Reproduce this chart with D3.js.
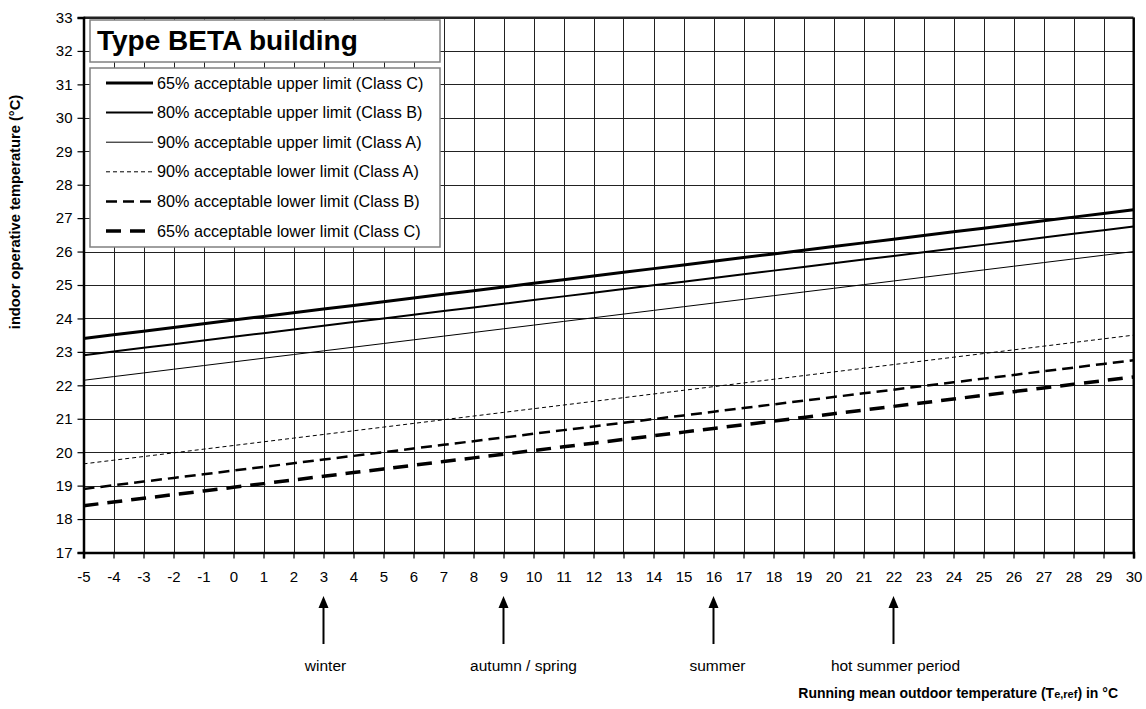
<!DOCTYPE html>
<html><head><meta charset="utf-8">
<script src="https://cdn.jsdelivr.net/npm/d3@7"></script>
<style>body{margin:0;background:#fff}svg{display:block;font-family:"Liberation Sans",Arial,sans-serif}</style>
</head><body><svg id="c" width="1146" height="709"></svg>
<script>
const xValues = [-5,-4,-3,-2,-1,0,1,2,3,4,5,6,7,8,9,10,11,12,13,14,15,16,17,18,19,20,21,22,23,24,25,26,27,28,29,30];
const upperC = [23.40,23.51,23.62,23.73,23.84,23.95,24.06,24.17,24.28,24.39,24.50,24.61,24.72,24.83,24.94,25.05,25.16,25.27,25.38,25.49,25.60,25.71,25.82,25.93,26.04,26.15,26.26,26.37,26.48,26.59,26.70,26.81,26.92,27.03,27.14,27.25];
const upperB = [22.90,23.01,23.12,23.23,23.34,23.45,23.56,23.67,23.78,23.89,24.00,24.11,24.22,24.33,24.44,24.55,24.66,24.77,24.88,24.99,25.10,25.21,25.32,25.43,25.54,25.65,25.76,25.87,25.98,26.09,26.20,26.31,26.42,26.53,26.64,26.75];
const upperA = [22.15,22.26,22.37,22.48,22.59,22.70,22.81,22.92,23.03,23.14,23.25,23.36,23.47,23.58,23.69,23.80,23.91,24.02,24.13,24.24,24.35,24.46,24.57,24.68,24.79,24.90,25.01,25.12,25.23,25.34,25.45,25.56,25.67,25.78,25.89,26.00];
const lowerA = [19.65,19.76,19.87,19.98,20.09,20.20,20.31,20.42,20.53,20.64,20.75,20.86,20.97,21.08,21.19,21.30,21.41,21.52,21.63,21.74,21.85,21.96,22.07,22.18,22.29,22.40,22.51,22.62,22.73,22.84,22.95,23.06,23.17,23.28,23.39,23.50];
const lowerB = [18.90,19.01,19.12,19.23,19.34,19.45,19.56,19.67,19.78,19.89,20.00,20.11,20.22,20.33,20.44,20.55,20.66,20.77,20.88,20.99,21.10,21.21,21.32,21.43,21.54,21.65,21.76,21.87,21.98,22.09,22.20,22.31,22.42,22.53,22.64,22.75];
const lowerC = [18.40,18.51,18.62,18.73,18.84,18.95,19.06,19.17,19.28,19.39,19.50,19.61,19.72,19.83,19.94,20.05,20.16,20.27,20.38,20.49,20.60,20.71,20.82,20.93,21.04,21.15,21.26,21.37,21.48,21.59,21.70,21.81,21.92,22.03,22.14,22.25];
const seriesNames = ["65% acceptable upper limit (Class C)","80% acceptable upper limit (Class B)","90% acceptable upper limit (Class A)","90% acceptable lower limit (Class A)","80% acceptable lower limit (Class B)","65% acceptable lower limit (Class C)"];
const xTicks = xValues;
const yTicks = [17,18,19,20,21,22,23,24,25,26,27,28,29,30,31,32,33];
const seasonPositions = [3,9,16,22];
const seasonLabels = ["winter","autumn / spring","summer","hot summer period"];
const chartTitle = "Type BETA building";
const yTitle = "indoor operative temperature (°C)";

const series = [
  {name:seriesNames[0], values:upperC, w:3,   dash:null},
  {name:seriesNames[1], values:upperB, w:2,   dash:null},
  {name:seriesNames[2], values:upperA, w:1,   dash:null},
  {name:seriesNames[3], values:lowerA, w:1,   dash:"4,3"},
  {name:seriesNames[4], values:lowerB, w:2.5, dash:"11,6"},
  {name:seriesNames[5], values:lowerC, w:3.5, dash:"15,9"}
];
const labelShift = [2,20,4,2];

const svg = d3.select("#c");
const L=83.5, R=1133.5, T=17.5, B=552.5;
const x = d3.scaleLinear().domain([-5,30]).range([L,R]);
const y = d3.scaleLinear().domain([17,33]).range([B,T]);

// grid
const g = svg.append("g");
g.selectAll("line.v").data(xTicks).join("line")
  .attr("x1",d=>Math.round(x(d))+0.5).attr("x2",d=>Math.round(x(d))+0.5)
  .attr("y1",T).attr("y2",B).attr("stroke","#222").attr("stroke-width",1);
g.selectAll("line.h").data(yTicks).join("line")
  .attr("y1",d=>Math.round(y(d))+0.5).attr("y2",d=>Math.round(y(d))+0.5)
  .attr("x1",L).attr("x2",R).attr("stroke","#222").attr("stroke-width",1);

// lines
const line = d3.line().x((d,i)=>x(xValues[i])).y(d=>y(d));
svg.append("g").selectAll("path").data(series).join("path")
  .attr("d",d=>line(d.values)).attr("fill","none").attr("stroke","#000")
  .attr("stroke-width",d=>d.w).attr("stroke-dasharray",d=>d.dash);

// border
svg.append("line").attr("x1",L).attr("x2",R).attr("y1",T).attr("y2",T).attr("stroke","#222").attr("stroke-width",2);
svg.append("line").attr("x1",R).attr("x2",R).attr("y1",T).attr("y2",B).attr("stroke","#000").attr("stroke-width",2);

// axes
const ax = svg.append("g").attr("transform",`translate(0,${B})`)
  .call(d3.axisBottom(x).tickValues(xTicks).tickSize(6).tickPadding(13).tickFormat(d=>String(d)));
const ay = svg.append("g").attr("transform",`translate(${L},0)`)
  .call(d3.axisLeft(y).tickValues(yTicks).tickSize(6).tickPadding(5).tickFormat(d=>String(d)));
[ax,ay].forEach(a=>{
  a.select(".domain").attr("stroke","#000").attr("stroke-width",2.5);
  a.selectAll(".tick line").attr("stroke","#000").attr("stroke-width",1.2);
  a.selectAll("text").attr("font-size",15).attr("fill","#000").attr("font-family","Liberation Sans, Arial, sans-serif");
});

// title box
svg.append("rect").attr("x",90).attr("y",20).attr("width",350).attr("height",42)
  .attr("fill","#fff").attr("stroke","#808080").attr("stroke-width",1.5);
svg.append("text").attr("x",97).attr("y",50).attr("font-size",28).attr("font-weight","bold").text(chartTitle);

// legend
svg.append("rect").attr("x",90).attr("y",68).attr("width",350).attr("height",179)
  .attr("fill","#fff").attr("stroke","#808080").attr("stroke-width",1.5);
const leg = svg.append("g").selectAll("g").data(series).join("g")
  .attr("transform",(d,i)=>`translate(0,${83+i*29.6})`);
leg.append("line").attr("x1",106).attr("x2",153).attr("y1",0).attr("y2",0)
  .attr("stroke","#000").attr("stroke-width",d=>d.w).attr("stroke-dasharray",d=>d.dash);
leg.append("text").attr("x",157).attr("y",5.5).attr("font-size",16.2).text(d=>d.name);

// y title
svg.append("text").attr("transform","translate(20,212) rotate(-90)").attr("text-anchor","middle")
  .attr("font-size",14.7).attr("font-weight","bold").text(yTitle);

// arrows
const ag = svg.append("g").selectAll("g").data(seasonPositions).join("g")
  .attr("transform",d=>`translate(${x(d)},0)`);
ag.append("line").attr("x1",0).attr("x2",0).attr("y1",605).attr("y2",644).attr("stroke","#000").attr("stroke-width",2);
ag.append("path").attr("d","M0,596 L-5,608 L5,608 Z").attr("fill","#000");
svg.append("g").selectAll("text").data(seasonLabels).join("text")
  .attr("x",(d,i)=>x(seasonPositions[i])+labelShift[i]).attr("y",671).attr("text-anchor","middle")
  .attr("font-size",15.5).text(d=>d);

// x title
const xt = svg.append("text").attr("x",1118).attr("y",698).attr("text-anchor","end")
  .attr("font-size",14).attr("font-weight","bold");
xt.append("tspan").text("Running mean outdoor temperature (T");
xt.append("tspan").attr("font-size",11).text("e,ref");
xt.append("tspan").text(") in °C");
</script></body></html>
